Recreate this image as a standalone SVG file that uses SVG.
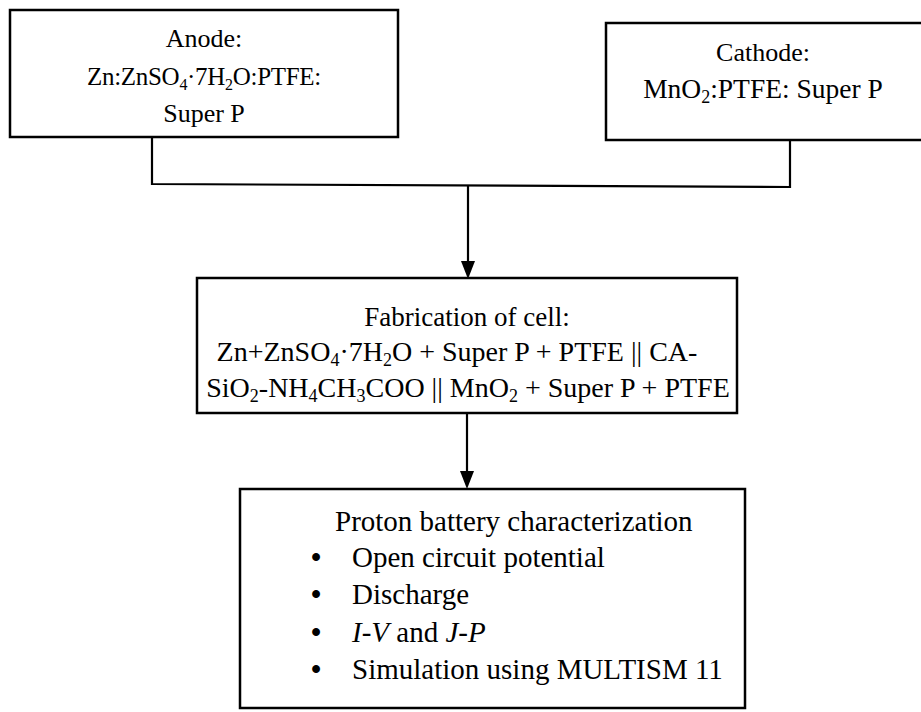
<svg xmlns="http://www.w3.org/2000/svg" width="921" height="712" viewBox="0 0 921 712">
<style>
.box{fill:#fff;stroke:#000;stroke-width:2.5}
.t{font-family:"Liberation Serif","Times New Roman",serif;font-size:26px;fill:#000}
.c{text-anchor:middle}
.f28{font-size:28px}
.f29{font-size:29px}
.bul{font-size:29px;font-weight:bold}
.ln{fill:none;stroke:#000;stroke-width:2.2}
.ah{fill:#000}
</style>
<rect width="921" height="712" fill="#fff"/>
<g id="connectors">
<polyline class="ln" points="152,137 152,184 790,187 790,140"/>
<line class="ln" x1="468" y1="185" x2="468" y2="262"/>
<path class="ah" d="M461,261 L475,261 L468,279 Z"/>
<line class="ln" x1="467" y1="413" x2="467" y2="472"/>
<path class="ah" d="M460,471 L474,471 L467,489 Z"/>
</g>
<g id="anode">
<rect class="box" x="10" y="10" width="388" height="127"/>
<text class="t c" x="204" y="47">Anode:</text>
<text class="t c" x="204" y="85" style="font-size:25px;letter-spacing:-0.3px">Zn:ZnSO<tspan font-size="16" dy="5">4</tspan><tspan dy="-5">·7H</tspan><tspan font-size="16" dy="5">2</tspan><tspan dy="-5">O:PTFE:</tspan></text>
<text class="t c" x="204" y="122">Super P</text>
</g>
<g id="cathode">
<rect class="box" x="606" y="23" width="330" height="117"/>
<text class="t c" x="763" y="61">Cathode:</text>
<text class="t c" x="763" y="98" style="font-size:27.5px">MnO<tspan font-size="18" dy="5">2</tspan><tspan dy="-5">:PTFE: Super P</tspan></text>
</g>
<g id="fabrication">
<rect class="box" x="197" y="278" width="540" height="135"/>
<text class="t c" x="467" y="326" style="font-size:27px">Fabrication of cell:</text>
<text class="t c f28" x="457" y="361">Zn+ZnSO<tspan font-size="18" dy="5">4</tspan><tspan dy="-5">·7H</tspan><tspan font-size="18" dy="5">2</tspan><tspan dy="-5">O + Super P + PTFE || CA-</tspan></text>
<text class="t c f28" x="468" y="397">SiO<tspan font-size="18" dy="5">2</tspan><tspan dy="-5">-NH</tspan><tspan font-size="18" dy="5">4</tspan><tspan dy="-5">CH</tspan><tspan font-size="18" dy="5">3</tspan><tspan dy="-5">COO || MnO</tspan><tspan font-size="18" dy="5">2</tspan><tspan dy="-5"> + Super P + PTFE</tspan></text>
</g>
<g id="characterization">
<rect class="box" x="240" y="489" width="505" height="219"/>
<text class="t f29" x="335" y="531">Proton battery characterization</text>
<text class="t bul" x="311" y="567">•</text>
<text class="t f29" x="352" y="567">Open circuit potential</text>
<text class="t bul" x="311" y="604">•</text>
<text class="t f29" x="352" y="604">Discharge</text>
<text class="t bul" x="311" y="642">•</text>
<text class="t f29" x="352" y="642"><tspan font-style="italic">I-V</tspan> and <tspan font-style="italic">J-P</tspan></text>
<text class="t bul" x="311" y="679">•</text>
<text class="t f29" x="352" y="679">Simulation using MULTISM 11</text>
</g>
</svg>
